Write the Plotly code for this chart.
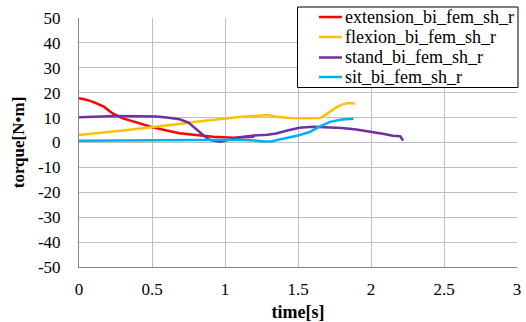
import plotly.graph_objects as go

# data
t_ext = [0, 0.05, 0.1, 0.17, 0.23, 0.3, 0.4, 0.49, 0.6, 0.69, 0.8, 0.92, 1.06, 1.2]
v_ext = [17.8, 17.2, 16.2, 14.4, 11.7, 9.7, 8.0, 6.3, 4.8, 3.7, 3.0, 2.3, 1.9, 2.3]

t_flex = [0, 0.1, 0.2, 0.3, 0.4, 0.5, 0.6, 0.7, 0.8, 0.9, 1.0, 1.1, 1.2, 1.27, 1.3, 1.35,
          1.45, 1.55, 1.65, 1.68, 1.72, 1.76, 1.8, 1.84, 1.87, 1.89]
v_flex = [3.0, 3.5, 4.2, 4.8, 5.4, 6.0, 6.8, 7.5, 8.3, 9.0, 9.7, 10.2, 10.6, 10.7, 11.0, 10.3,
          9.8, 9.7, 9.8, 10.8, 12.5, 14.0, 15.2, 15.8, 15.8, 15.5]

t_stand = [0, 0.1, 0.26, 0.4, 0.53, 0.6, 0.69, 0.75, 0.81, 0.86, 0.9, 0.97, 1.1, 1.2, 1.29,
           1.35, 1.42, 1.51, 1.6, 1.7, 1.8, 1.9, 2.0, 2.08, 2.15, 2.2, 2.22]
v_stand = [10.1, 10.4, 10.6, 10.5, 10.4, 10.0, 9.3, 8.0, 5.0, 2.5, 1.0, 0.3, 2.1, 2.8, 3.1,
           3.6, 4.7, 5.9, 6.3, 6.2, 5.8, 5.2, 4.4, 3.5, 2.7, 2.5, 0.8]

t_sit = [0, 0.2, 0.4, 0.6, 0.8, 1.0, 1.1, 1.2, 1.27, 1.32, 1.4, 1.5, 1.58, 1.65, 1.72, 1.8, 1.88]
v_sit = [0.7, 0.8, 1.0, 1.1, 1.2, 1.3, 1.1, 0.8, 0.4, 0.5, 1.5, 2.8, 4.2, 6.5, 8.3, 9.2, 9.5]

series_names = ["extension_bi_fem_sh_r", "flexion_bi_fem_sh_r",
                "stand_bi_fem_sh_r", "sit_bi_fem_sh_r"]
series_t = [t_ext, t_flex, t_stand, t_sit]
series_v = [v_ext, v_flex, v_stand, v_sit]
series_colors = ["#ff0000", "#ffc000", "#7030a0", "#00b0f0"]

x_ticks = [0, 0.5, 1, 1.5, 2, 2.5, 3]
x_tick_text = ["0", "0.5", "1", "1.5", "2", "2.5", "3"]
y_ticks = [50, 40, 30, 20, 10, 0, -10, -20, -30, -40, -50]
y_tick_text = ["50", "40", "30", "20", "10", "0", "-10", "-20", "-30", "-40", "-50"]

W, H = 526, 322
ML, MR, MT, MB = 79, 9, 18, 55
PW, PH = W - ML - MR, H - MT - MB


def px(x):  # pixel -> paper x
    return (x - ML) / PW


def py(y):  # pixel -> paper y
    return (H - MB - y) / PH


fig = go.Figure()
for name, t, v, c in zip(series_names, series_t, series_v, series_colors):
    fig.add_trace(go.Scatter(x=t, y=v, name=name, mode="lines",
                             line=dict(color=c, width=2.5), showlegend=False))

font = "'Liberation Serif', 'Times New Roman', serif"

# legend box drawn as paper-anchored shapes/annotations
shapes = [dict(type="rect", xref="paper", yref="paper",
               x0=px(297.5), x1=px(518), y0=py(7), y1=py(87.5),
               line=dict(color="black", width=1), fillcolor="white", layer="above")]
annotations = []
row_y = [17, 37, 57.5, 77]
for name, c, ry in zip(series_names, series_colors, row_y):
    shapes.append(dict(type="line", xref="paper", yref="paper",
                       x0=px(319), x1=px(342), y0=py(ry), y1=py(ry),
                       line=dict(color=c, width=2.5), layer="above"))
    annotations.append(dict(xref="paper", yref="paper", x=px(343), y=py(ry),
                            xanchor="left", yanchor="middle", text=name,
                            showarrow=False,
                            font=dict(family=font, size=18, color="black")))

fig.update_layout(
    width=W, height=H,
    margin=dict(l=ML, r=MR, t=MT, b=MB),
    paper_bgcolor="white", plot_bgcolor="white",
    font=dict(family=font, size=17, color="black"),
    showlegend=False,
    shapes=shapes, annotations=annotations,
    xaxis=dict(range=[0, 3], tickvals=x_ticks, ticktext=x_tick_text,
               showgrid=True, gridcolor="#bfbfbf", gridwidth=1,
               showline=True, linecolor="#868686", linewidth=1,
               zeroline=False, ticks="", ticklabelstandoff=7, automargin=False,
               tickfont=dict(size=17),
               title=dict(text="<b>time[s]</b>", standoff=8,
                          font=dict(family=font, size=18))),
    yaxis=dict(range=[-50, 50], tickvals=y_ticks, ticktext=y_tick_text,
               showgrid=True, gridcolor="#bfbfbf", gridwidth=1,
               showline=True, linecolor="#868686", linewidth=1,
               zeroline=True, zerolinecolor="#bfbfbf", zerolinewidth=1,
               ticks="", ticklabelstandoff=14, tickfont=dict(size=17),
               automargin=False,
               title=dict(text="<b>torque[N•m]</b>", standoff=8,
                          font=dict(family=font, size=17))),
)

fig.write_html("out.html")
